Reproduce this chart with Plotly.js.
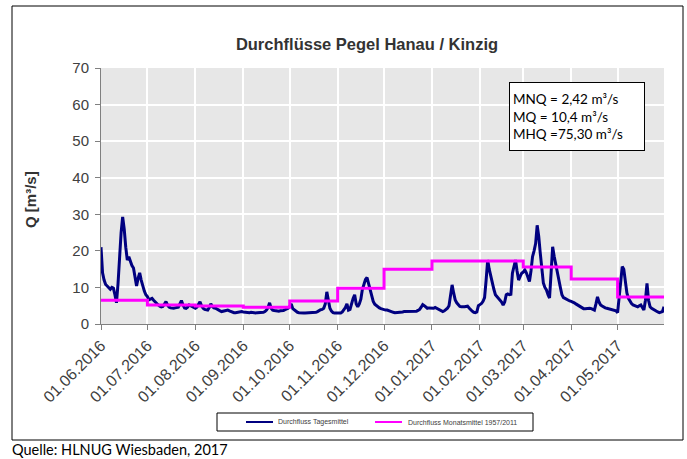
<!DOCTYPE html>
<html>
<head>
<meta charset="utf-8">
<script src="https://cdn.plot.ly/plotly-3.0.1.min.js"></script>
<style>html,body{margin:0;padding:0;background:#fff;}#chart{width:687px;height:459px;}</style>
</head>
<body>
<div id="chart"></div>
<script>
// Daily mean discharge (m³/s), one array per month, starting 01.06.2016
const jun16 = [21,14,12,10.8,10.4,10,9.5,10,9.8,8,5.8,11,19,25,29.3,26,21,17.5,18.4,17,16,15.3,13,10.4,12.5,14,12,10.2,9,8];
const jul16 = [7.5,6.6,6.8,7,6.5,6,5.7,5.2,4.9,4.7,4.8,5.5,6.1,5.2,4.6,4.4,4.3,4.3,4.4,4.4,4.6,5.5,6.4,5.2,4.4,4.3,4.6,5.2,5,4.6,4.4];
const aug16 = [4.3,4.6,5.3,6.1,5,4.3,4,3.9,3.8,4.5,5.5,4.8,4.4,4.3,4,3.8,3.6,3.4,3.5,3.6,3.7,3.8,3.6,3.4,3.2,3.1,3.1,3.2,3.3,3.4,3.4];
const sep16 = [3.3,3.2,3.1,3.1,3.1,3.2,3.1,3.1,3.0,3.1,3.1,3.2,3.1,3.2,3.4,3.8,4.5,5.8,4.3,3.8,3.7,3.6,3.6,3.5,3.6,3.6,3.7,3.9,4.1,4.3];
const oct16 = [4.8,5.5,4.2,3.8,3.5,3.2,3.1,3.0,3.0,3.0,3.0,3.0,3.0,3.0,3.0,3.0,3.1,3.2,3.4,3.7,3.9,4.0,4.3,5.5,8.8,6.5,4.3,3.5,3.1,3.0,3.0];
const nov16 = [3.0,3.0,3.0,3.3,3.8,4.5,5.5,3.8,4.0,6.0,7.0,8.0,5.5,4.7,5.5,6.8,9.5,10.8,12.2,12.7,11.2,9.2,7.5,6.2,5.4,5.0,4.7,4.4,4.2,4.0];
const dec16 = [3.9,3.8,3.8,3.6,3.4,3.3,3.2,3.1,3.1,3.1,3.2,3.3,3.3,3.4,3.4,3.4,3.3,3.3,3.4,3.4,3.4,3.5,3.7,4.0,4.6,5.3,5.0,4.6,4.3,4.4,4.3];
const jan17 = [4.2,4.3,4.5,4.3,4.0,3.7,3.5,3.4,3.6,4.0,4.3,5.0,7.5,10.7,8.5,6.6,5.8,5.2,4.8,4.7,4.6,4.7,4.8,4.9,4.4,3.8,3.5,3.2,3.1,3.3,5.0];
const feb17 = [5.3,5.6,6.2,7.2,12,17.5,15,13,11,9.5,8.0,7.5,7.0,6.6,6.0,5.2,6.0,8.0,8.2,8.0,8.1,13.9,16,17.5,14.5,12,13,13.9];
const mar17 = [14.2,14.8,14.0,12.5,11.6,14.5,18.4,20,22,27,24,19.4,14,11.2,10,9.3,8,7.1,14,21.1,18.5,16.6,14,12,10,8,7.2,7.0,6.7,6.5,6.3];
const apr17 = [6.2,6.1,5.8,5.5,5.2,5.0,4.6,4.3,4.2,4.2,4.3,4.3,4.3,4.2,4.0,3.8,5.5,7.4,6.0,5.2,4.9,4.6,4.4,4.3,4.2,4.0,3.9,3.8,3.8,3.6];
const may17 = [3.1,7,12,15.7,15,12,8.5,7.0,6.2,5.6,5.2,5.0,4.8,4.7,5.0,5.2,4.5,3.8,6.5,11.1,6.5,4.7,4.3,4.0,3.8,3.5,3.3,3.1,3.2,3.4,4.7];

// Monthly mean discharge 1957/2011 (m³/s), June ... May
const monthStarts = ['2016-06-01','2016-07-01','2016-08-01','2016-09-01','2016-10-01','2016-11-01','2016-12-01','2017-01-01','2017-02-01','2017-03-01','2017-04-01','2017-05-01','2017-05-31'];
const monthlyMean = [6.5,5.2,4.9,4.6,6.3,9.8,15.0,17.2,17.2,15.6,12.3,7.4,7.4];

const tickLabels = ['01.06.2016','01.07.2016','01.08.2016','01.09.2016','01.10.2016','01.11.2016','01.12.2016','01.01.2017','01.02.2017','01.03.2017','01.04.2017','01.05.2017'];
const tickDates = monthStarts.slice(0, 12);
const yTicks = [0,10,20,30,40,50,60,70];
const seriesNames = ['Durchfluss Tagesmittel', 'Durchfluss Monatsmittel 1957/2011'];
const seriesColors = ['#000080', '#ff00ff'];

const daily = [].concat(jun16,jul16,aug16,sep16,oct16,nov16,dec16,jan17,feb17,mar17,apr17,may17);
const dailyDates = daily.map((v, i) => {
  const d = new Date(Date.UTC(2016, 5, 1 + i));
  return d.toISOString().slice(0, 10);
});

const traces = [
  {x: dailyDates, y: daily, type: 'scatter', mode: 'lines', name: seriesNames[0],
   line: {color: seriesColors[0], width: 3}},
  {x: monthStarts, y: monthlyMean, type: 'scatter', mode: 'lines', name: seriesNames[1],
   line: {color: seriesColors[1], width: 3, shape: 'hv'}}
];

const L = 101, R = 664, T = 68, B = 324;
const px = x => (x - L) / (R - L);
const py = y => (B - y) / (B - T);

const legendFont = {family: 'Liberation Sans, Arial, sans-serif', size: 7, color: '#404040'};

const layout = {
  width: 687, height: 459,
  margin: {l: L, r: 687 - R, t: T, b: 459 - B},
  paper_bgcolor: '#ffffff',
  plot_bgcolor: '#e7e7e7',
  font: {family: 'Liberation Sans, Arial, sans-serif', color: '#404040'},
  title: {text: '<b>Durchflüsse Pegel Hanau / Kinzig</b>', font: {size: 16.5, color: '#333333', family: 'Liberation Sans, Arial, sans-serif'},
          x: px(367), xref: 'paper', xanchor: 'center', y: 1 - 44/459, yanchor: 'middle'},
  showlegend: false,
  xaxis: {
    type: 'date', range: ['2016-06-01', '2017-05-31'],
    tickvals: tickDates, ticktext: tickLabels, tickangle: -45,
    tickfont: {size: 16, color: '#404040'},
    ticks: 'outside', ticklen: 5, tickcolor: '#808080',
    showgrid: true, gridcolor: '#ffffff', gridwidth: 2,
    showline: true, linecolor: '#808080', linewidth: 1,
    zeroline: false, fixedrange: true
  },
  yaxis: {
    range: [0, 70], tickvals: yTicks,
    tickfont: {size: 15, color: '#404040'},
    ticks: 'outside', ticklen: 5, tickcolor: '#808080', ticklabelstandoff: 3,
    showgrid: true, gridcolor: '#ffffff', gridwidth: 2,
    showline: true, linecolor: '#808080', linewidth: 1,
    zeroline: false, fixedrange: true
  },
  shapes: [
    {type: 'rect', xref: 'paper', yref: 'paper', x0: px(12), x1: px(683), y0: py(440), y1: py(6),
     line: {color: '#000000', width: 1}, fillcolor: 'rgba(0,0,0,0)', layer: 'below'},
    // legend box and keys
    {type: 'rect', xref: 'paper', yref: 'paper', x0: px(217), x1: px(533), y0: py(431), y1: py(413),
     line: {color: '#000000', width: 1}, fillcolor: '#ffffff'},
    {type: 'line', xref: 'paper', yref: 'paper', x0: px(246), x1: px(273), y0: py(422), y1: py(422),
     line: {color: seriesColors[0], width: 2}},
    {type: 'line', xref: 'paper', yref: 'paper', x0: px(375), x1: px(402), y0: py(422), y1: py(422),
     line: {color: seriesColors[1], width: 2}}
  ],
  annotations: [
    {xref: 'paper', yref: 'paper', x: px(30), y: py(200), xanchor: 'center', yanchor: 'middle',
     text: '<b>Q [m³/s]</b>', textangle: -90, showarrow: false,
     font: {family: 'Liberation Sans, Arial, sans-serif', size: 15, color: '#333333'}},
    {xref: 'paper', yref: 'paper', x: px(276), y: py(422), xanchor: 'left', yanchor: 'middle',
     text: seriesNames[0], showarrow: false, font: legendFont},
    {xref: 'paper', yref: 'paper', x: px(406), y: py(422), xanchor: 'left', yanchor: 'middle',
     text: seriesNames[1], showarrow: false, font: legendFont},
    {xref: 'paper', yref: 'paper', x: px(576.5), y: py(116.5), xanchor: 'center', yanchor: 'middle',
     text: 'MNQ = 2,42 m³/s<br>MQ = 10,4 m³/s<br>MHQ =75,30 m³/s', align: 'left', showarrow: false,
     width: 128, height: 61, borderpad: 3, bordercolor: '#000000', borderwidth: 1, bgcolor: '#ffffff',
     font: {family: 'Lato, Open Sans, sans-serif', size: 13.5, color: '#000000'}},
    {xref: 'paper', yref: 'paper', x: px(10), y: py(449), xanchor: 'left', yanchor: 'middle',
     text: 'Quelle: HLNUG Wiesbaden, 2017', showarrow: false,
     font: {family: 'Lato, Open Sans, sans-serif', size: 14.5, color: '#000000'}}
  ]
};

Plotly.newPlot('chart', traces, layout, {displayModeBar: false, staticPlot: true});
</script>
</body>
</html>
